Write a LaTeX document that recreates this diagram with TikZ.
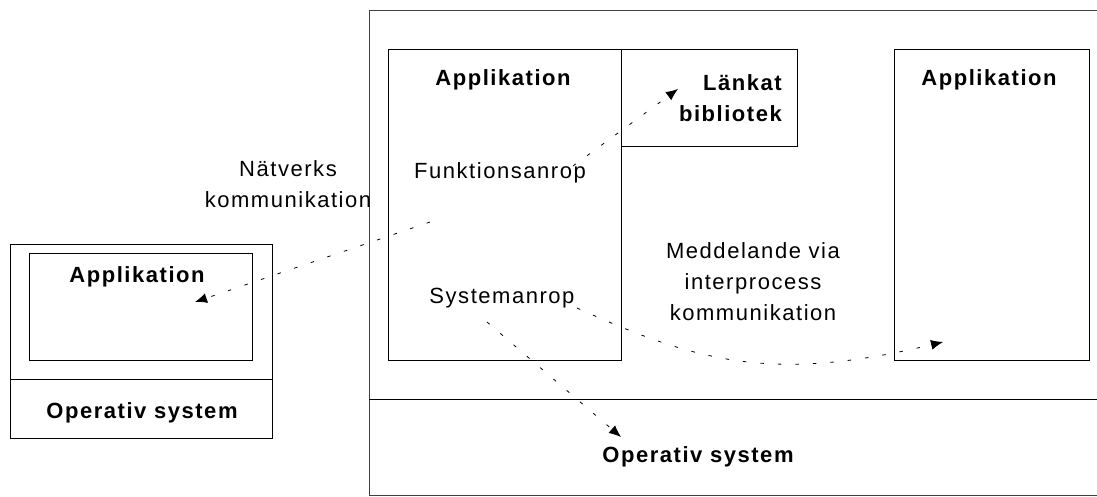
\documentclass[tikz,border=0pt]{standalone}
\usepackage{fontspec}
\setmainfont{Liberation Sans}[LetterSpace=7]
\usetikzlibrary{arrows.meta}

\tikzset{
  box/.style={draw=black, line width=1pt, inner sep=0pt, outer sep=0pt, anchor=north west},
  txt/.style={inner sep=0pt, align=center, font=\fontsize{22}{31}\selectfont},
  btxt/.style={txt, font=\fontsize{22}{31}\selectfont\bfseries},
  flow/.style={line width=0.8pt, dash pattern=on 3.5pt off 14pt,
    -{Latex[length=12pt,width=10pt]}},
}

\begin{document}
\begin{tikzpicture}[x=1pt, y=-1pt]
\useasboundingbox (0,0) rectangle (1097,496);

% host machine on the right: open towards the right edge
\draw[line width=1pt, black!75] (1100,10) -- (369,10) -- (369,495) -- (1100,495);
\coordinate (osL) at (369,399);
\coordinate (osR) at (1100,399);
\draw[line width=1pt] (osL) -- (osR);

\node[box, minimum width=233pt, minimum height=311pt] (appA) at (388,49) {};
\node[box, minimum width=176pt, minimum height=97pt] (lib) at (621,49) {};
\node[box, minimum width=195pt, minimum height=311pt] (appB) at (894,49) {};

\node[btxt] (appAt) at (503,80) {Applikation};
\node[btxt, align=right, anchor=east] (libt) at (782,98) {Länkat\\bibliotek};
\node[btxt] (appBt) at (989,80) {Applikation};
\node[txt] (func) at (500,173) {Funktionsanrop};
\node[txt] (sys) at (502,298) {Systemanrop};
\node[txt] (ipc) at (753,282) {Meddelande via\\interprocess\\kommunikation};
\node[btxt] (osB) at (698,457) {Operativ system};

% remote machine on the left
\node[box, minimum width=262pt, minimum height=194pt] (remote) at (10,244) {};
\draw[line width=1pt] (10,379) -- (272,379);
\node[box, minimum width=223pt, minimum height=107pt] (appC) at (29,253) {};
\node[btxt] (appCt) at (137,277) {Applikation};
\node[btxt] (osC) at (142,413) {Operativ system};

\node[txt] (net) at (288,184) {Nätverks\\kommunikation};

% calls and messages
\coordinate (funcOut) at (573,166);
\coordinate (libIn) at (678,89);
\coordinate (netOut) at (430,222);
\coordinate (remoteIn) at (195,302);
\coordinate (sysOut) at (487,322);
\coordinate (osIn) at (621,437);
\coordinate (ipcOut) at (577,308);
\coordinate (appBIn) at (943,342);

\draw[flow] (funcOut) -- (libIn);
\draw[flow] (netOut) -- (remoteIn);
\draw[flow] (sysOut) -- (osIn);
\draw[flow] (ipcOut) .. controls (697,362) and (772,383) .. (appBIn);
\end{tikzpicture}
\end{document}
